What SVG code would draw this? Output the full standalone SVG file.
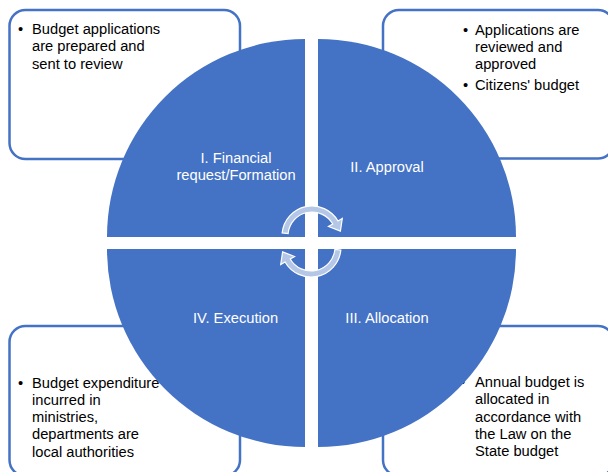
<svg xmlns="http://www.w3.org/2000/svg" width="608" height="472" viewBox="0 0 608 472">
<style>
.box{fill:#fff;stroke:#4472C4;stroke-width:2.5}
.quad{fill:#4472C4;stroke:none}
.txt{font-family:"Liberation Sans",Arial,sans-serif;font-size:14.7px;fill:#000}
.lbl{font-family:"Liberation Sans",Arial,sans-serif;font-size:14.7px;fill:#fff;text-anchor:middle}
.arr{fill:#B4C7E7;stroke:#fff;stroke-width:1.2}
</style>
<rect width="608" height="472" fill="#fff"/>
<g id="box-formation">
<rect class="box" x="9.5" y="10" width="230.5" height="149" rx="16"/>
<text class="txt"><tspan x="18" y="34">•</tspan><tspan x="32" y="34">Budget applications</tspan><tspan x="32" y="51.3">are prepared and</tspan><tspan x="32" y="68.6">sent to review</tspan></text>
</g>
<g id="box-approval">
<rect class="box" x="383" y="10" width="231" height="148.5" rx="16"/>
<text class="txt"><tspan x="463" y="34.5">•</tspan><tspan x="475" y="34.5">Applications are</tspan><tspan x="475" y="51.8">reviewed and</tspan><tspan x="475" y="69.1">approved</tspan><tspan x="463" y="90">•</tspan><tspan x="475" y="90">Citizens' budget</tspan></text>
</g>
<g id="box-execution">
<rect class="box" x="9.5" y="326" width="230.5" height="150" rx="16"/>
<text class="txt"><tspan x="18" y="387.5">•</tspan><tspan x="32" y="387.5">Budget expenditure</tspan><tspan x="32" y="404.8">incurred in</tspan><tspan x="32" y="422.1">ministries,</tspan><tspan x="32" y="439.4">departments are</tspan><tspan x="32" y="456.7">local authorities</tspan></text>
</g>
<g id="box-allocation">
<rect class="box" x="383" y="326" width="231" height="150" rx="16"/>
<text class="txt"><tspan x="460" y="387">•</tspan><tspan x="475" y="387">Annual budget is</tspan><tspan x="475" y="404.3">allocated in</tspan><tspan x="475" y="421.6">accordance with</tspan><tspan x="475" y="438.9">the Law on the</tspan><tspan x="475" y="456.2">State budget</tspan></text>
</g>
<g id="q1-formation">
<path class="quad" d="M305,237 L305,39 A198,198 0 0 0 107,237 Z"/>
<text class="lbl"><tspan x="236" y="163">I. Financial</tspan><tspan x="236" y="180.3">request/Formation</tspan></text>
</g>
<g id="q2-approval">
<path class="quad" d="M318,237 L318,39 A198,198 0 0 1 516,237 Z"/>
<text class="lbl" x="387" y="172">II. Approval</text>
</g>
<g id="q3-allocation">
<path class="quad" d="M318,249 L516,249 A198,198 0 0 1 318,447 Z"/>
<text class="lbl" x="387" y="323">III. Allocation</text>
</g>
<g id="q4-execution">
<path class="quad" d="M305,249 L305,447 A198,198 0 0 1 107,249 Z"/>
<text class="lbl" x="235.5" y="323">IV. Execution</text>
</g>
<g id="connectors">
<path id="arrow-top" class="arr" d="M282.16,232.86 A30,30 0 0 1 337.98,221 L342.31,218.5 L340.38,231.16 L328.45,226.5 L332.78,224 A24,24 0 0 0 288.13,233.49 Z"/>
<path id="arrow-bottom" class="arr" transform="rotate(180 311.5 241.5)" d="M282.16,232.86 A30,30 0 0 1 337.98,221 L342.31,218.5 L340.38,231.16 L328.45,226.5 L332.78,224 A24,24 0 0 0 288.13,233.49 Z"/>
</g>
</svg>
